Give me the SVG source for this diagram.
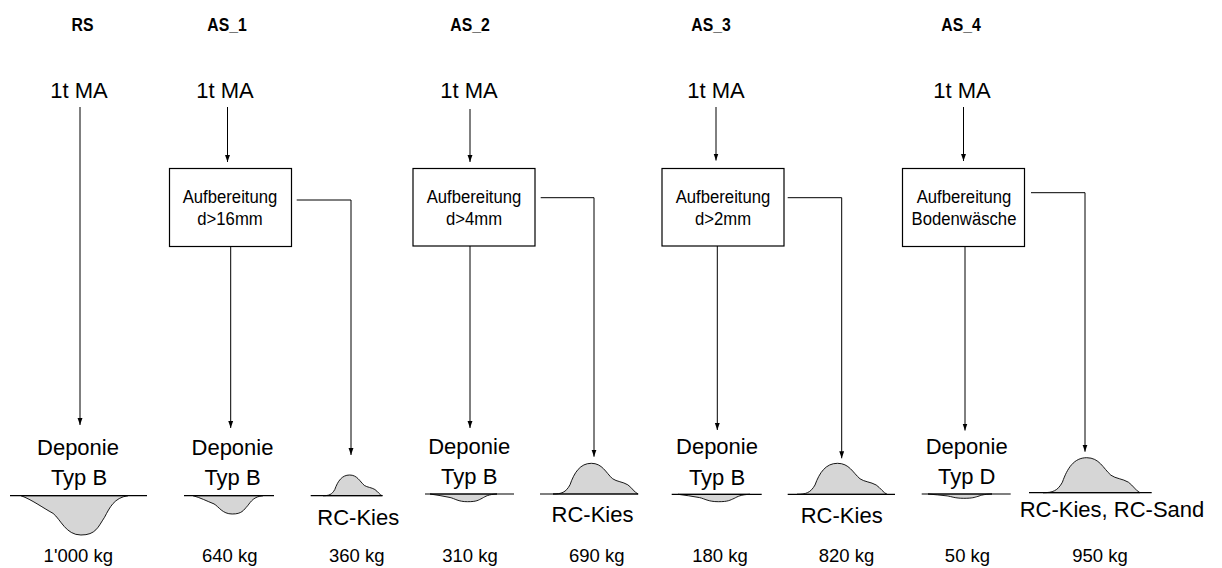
<svg xmlns="http://www.w3.org/2000/svg" width="1222" height="568" viewBox="0 0 1222 568">
<defs>
<marker id="ah" markerUnits="userSpaceOnUse" markerWidth="7" markerHeight="11" refX="10" refY="3.5" orient="auto" viewBox="0 0 10 7">
<path d="M0,0 L10,3.5 L0,7 z" fill="#000"/>
</marker>
<style>
text{font-family:"Liberation Sans",Arial,sans-serif;fill:#000;text-anchor:middle}
.hd{font-size:15.8px;font-weight:bold}
.big{font-size:22px}
.box{font-size:16.7px}
.kg{font-size:18.5px}
.bx{fill:#fff;stroke:#000;stroke-width:1.2}
.ar{fill:none;stroke:#000;stroke-width:1;marker-end:url(#ah)}
.gl{fill:none;stroke:#000;stroke-width:1.2}
.pile{fill:#d6d6d6;stroke:#000;stroke-width:0.9}
</style>
</defs>
<rect width="1222" height="568" fill="#fff"/>

<g id="headers">
<text class="hd" transform="translate(82.5,31) scale(1,1.12)">RS</text>
<text class="hd" transform="translate(227,31) scale(1,1.12)">AS_1</text>
<text class="hd" transform="translate(470,31) scale(1,1.12)">AS_2</text>
<text class="hd" transform="translate(711,31) scale(1,1.12)">AS_3</text>
<text class="hd" transform="translate(961,31) scale(1,1.12)">AS_4</text>
</g>

<g id="inputs">
<text class="big" x="79" y="98">1t MA</text>
<text class="big" x="225" y="98">1t MA</text>
<text class="big" x="469" y="98">1t MA</text>
<text class="big" x="716" y="98">1t MA</text>
<text class="big" x="962" y="98">1t MA</text>
</g>

<g id="box1"><rect class="bx" x="169.5" y="168.5" width="122" height="78"/>
<text class="box" transform="translate(230,203.3) scale(1,1.15)">Aufbereitung</text><text class="box" transform="translate(230,225) scale(1,1.15)">d&gt;16mm</text></g>
<g id="box2"><rect class="bx" x="413" y="168.5" width="122" height="77.5"/>
<text class="box" transform="translate(474,203.3) scale(1,1.15)">Aufbereitung</text><text class="box" transform="translate(474,225) scale(1,1.15)">d&gt;4mm</text></g>
<g id="box3"><rect class="bx" x="662" y="168.5" width="122" height="77.5"/>
<text class="box" transform="translate(723,203.3) scale(1,1.15)">Aufbereitung</text><text class="box" transform="translate(723,225) scale(1,1.15)">d&gt;2mm</text></g>
<g id="box4"><rect class="bx" x="902.5" y="168.5" width="122" height="78"/>
<text class="box" transform="translate(964,203.3) scale(1,1.15)">Aufbereitung</text><text class="box" transform="translate(964,225) scale(1,1.15)">Bodenwäsche</text></g>

<g id="connectors">
<line class="ar" x1="80" y1="107" x2="80" y2="425"/>
<line class="ar" x1="227.5" y1="107" x2="227.5" y2="162"/>
<line class="ar" x1="470" y1="109" x2="470" y2="162"/>
<line class="ar" x1="716" y1="107" x2="716" y2="160.5"/>
<line class="ar" x1="963.5" y1="107" x2="963.5" y2="161"/>
<line class="ar" x1="230.7" y1="247" x2="230.7" y2="428"/>
<line class="ar" x1="470" y1="246" x2="470" y2="428"/>
<line class="ar" x1="717.3" y1="246" x2="717.3" y2="430"/>
<line class="ar" x1="965" y1="247" x2="965" y2="430.5"/>
<polyline class="ar" points="296.7,200 351,200 351,455"/>
<polyline class="ar" points="540.7,197.7 594,197.7 594,456.7"/>
<polyline class="ar" points="787.7,197.7 841.7,197.7 841.7,458.3"/>
<polyline class="ar" points="1031,192.7 1085,192.7 1085,451.7"/>
</g>

<g id="deponie-rs">
<text class="big" x="78" y="454.5">Deponie</text><text class="big" x="79" y="484.5">Typ B</text>
<path class="pile" d="M21,495.7 C31.7,499.6 42.4,507.5 53.1,513.4 C60.6,519.3 65.9,535 80.9,535 C95.9,535 98,527.1 104.5,517.3 C109.8,507.5 114.1,497.7 128,495.7 Z"/>
<line class="gl" x1="10" y1="495.7" x2="147" y2="495.7"/>
<text class="kg" x="78.3" y="561.5">1'000 kg</text>
</g>

<g id="deponie-as1">
<text class="big" x="232.5" y="454.5">Deponie</text><text class="big" x="232.5" y="484.5">Typ B</text>
<path class="pile" d="M193,495.7 C200,497.5 207,501.2 214,503.9 C218.9,506.7 222.4,514 232.2,514 C242,514 243.4,510.3 247.6,505.8 C251.1,501.2 253.9,496.6 263,495.7 Z"/>
<line class="gl" x1="184" y1="495.7" x2="274" y2="495.7"/>
<text class="kg" x="229.7" y="561.5">640 kg</text>
</g>

<g id="rc-as1">
<path class="pile" d="M323,495.7 C328.9,495.7 331.9,494.7 334.8,489.5 C337.8,481.2 341.9,475 349.6,475 C357.2,475 359.6,481.2 364.3,485.4 C367.3,487.4 371.4,487.4 374.9,489.5 C377.9,491.6 379.6,494.7 382,495.7 Z"/>
<line class="gl" x1="310.7" y1="495.7" x2="382.7" y2="495.7"/>
<text class="big" x="358.3" y="525">RC-Kies</text>
<text class="kg" x="356.7" y="561.5">360 kg</text>
</g>

<g id="deponie-as2">
<text class="big" x="469.2" y="454">Deponie</text><text class="big" x="469.2" y="484">Typ B</text>
<path class="pile" d="M430,494 C436.7,494.8 443.4,496.3 450.1,497.5 C454.8,498.6 458.1,501.7 467.5,501.7 C476.9,501.7 478.2,500.2 482.3,498.2 C485.6,496.3 488.3,494.4 497,494 Z"/>
<line class="gl" x1="425" y1="494" x2="514" y2="494"/>
<text class="kg" x="470" y="561.5">310 kg</text>
</g>

<g id="rc-as2">
<path class="pile" d="M553,494 C561.5,494 565.8,492.5 570,484.8 C574.3,472.5 580.2,463.3 591.3,463.3 C602.3,463.3 605.7,472.5 612.5,478.7 C616.8,481.7 622.7,481.7 627.8,484.8 C632.1,487.9 634.6,492.5 638,494 Z"/>
<line class="gl" x1="540" y1="494" x2="638.3" y2="494"/>
<text class="big" x="592.5" y="521.7">RC-Kies</text>
<text class="kg" x="596.7" y="561.5">690 kg</text>
</g>

<g id="deponie-as3">
<text class="big" x="717" y="454.3">Deponie</text><text class="big" x="717" y="485">Typ B</text>
<path class="pile" d="M678,494.3 C685.2,495 692.4,496.5 699.6,497.6 C704.6,498.7 708.2,501.7 718.3,501.7 C728.4,501.7 729.8,500.2 734.2,498.4 C737.8,496.5 740.6,494.7 750,494.3 Z"/>
<line class="gl" x1="671.7" y1="494.3" x2="761.7" y2="494.3"/>
<text class="kg" x="720" y="561.5">180 kg</text>
</g>

<g id="rc-as3">
<path class="pile" d="M797,494.3 C806,494.3 810.5,492.8 815,485 C819.5,472.6 825.8,463.3 837.5,463.3 C849.2,463.3 852.8,472.6 860,478.8 C864.5,481.9 870.8,481.9 876.2,485 C880.7,488.1 883.4,492.8 887,494.3 Z"/>
<line class="gl" x1="787.7" y1="494.3" x2="895" y2="494.3"/>
<text class="big" x="841.7" y="523.3">RC-Kies</text>
<text class="kg" x="846.5" y="561.5">820 kg</text>
</g>

<g id="deponie-as4">
<text class="big" x="966.7" y="453.5">Deponie</text><text class="big" x="966.7" y="483.5">Typ D</text>
<path class="pile" d="M928,494 C934.4,494.4 940.8,495.3 947.2,495.9 C951.7,496.6 954.9,498.3 963.8,498.3 C972.8,498.3 974.1,497.4 977.9,496.4 C981.1,495.3 983.7,494.2 992,494 Z"/>
<line class="gl" x1="921.7" y1="494" x2="1010.7" y2="494"/>
<text class="kg" x="967.5" y="561.5">50 kg</text>
</g>

<g id="rc-as4">
<path class="pile" d="M1043,492.7 C1052.7,492.7 1057.6,490.9 1062.4,482.2 C1067.3,468.2 1074,457.7 1086.7,457.7 C1099.3,457.7 1103.1,468.2 1110.9,475.2 C1115.8,478.7 1122.5,478.7 1128.4,482.2 C1133.2,485.7 1136.1,490.9 1140,492.7 Z"/>
<line class="gl" x1="1029" y1="492.7" x2="1151.7" y2="492.7"/>
<text class="big" x="1112" y="516.5">RC-Kies, RC-Sand</text>
<text class="kg" x="1100" y="561.5">950 kg</text>
</g>
</svg>
